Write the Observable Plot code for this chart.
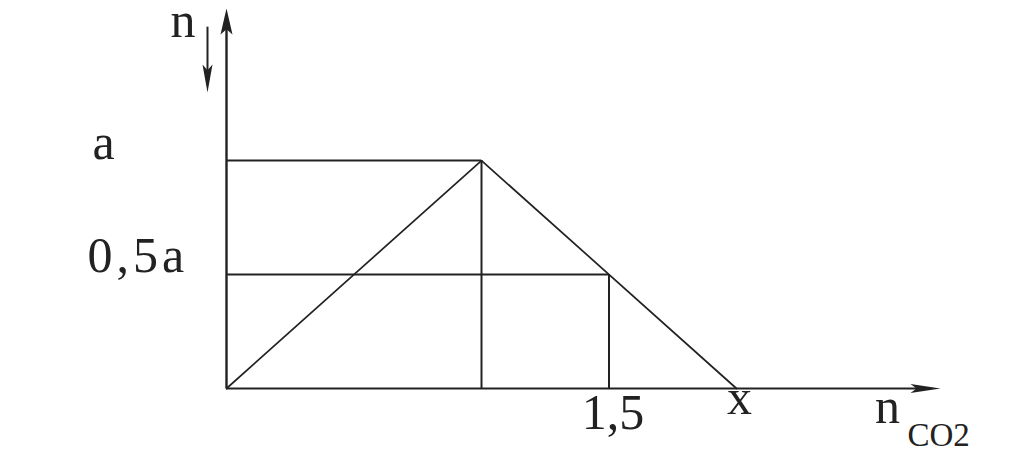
<!DOCTYPE html>
<html>
<head>
<meta charset="utf-8">
<script src="https://cdn.jsdelivr.net/npm/d3@7"></script>
<script src="https://cdn.jsdelivr.net/npm/@observablehq/plot@0.6"></script>
<style>
  html, body { margin: 0; padding: 0; background: #fff; }
  #chart svg { display: block; }
</style>
</head>
<body>
<div id="chart"></div>
<script>
// ---- data ----
const curveX = [0, 1, 2];
const curveY = [0, 1, 0];
const guideX = [1, 1.5];
const guideY = [1, 0.5];
const xTickValues = [1.5, 2];
const xTickLabels = ["1,5", "x"];
const yTickValues = [1, 0.5];
const yTickLabels = ["a", "0,5a"];
const xAxisLabel = "n";
const xAxisSub = "CO2";
const yAxisLabel = "n";
const xMax = 2.8;
const yMax = 1.667;

// ---- derived tables ----
const curve = curveX.map((x, i) => ({x, y: curveY[i]}));
const guides = guideX.map((x, i) => ({x, y: guideY[i]}));
const xTicks = xTickValues.map((x, i) => ({x, label: xTickLabels[i]}));
const yTicks = yTickValues.map((y, i) => ({y, label: yTickLabels[i]}));

// label offsets in pixels (layout)
const yTickOffsets = [[-134, -2], [-139, -3]];
const xTickOffsets = [[4, 40], [3, 25]];

// custom narrow arrowhead symbol pointing up (rotated per use)
const arrowHead = (len, half) => ({
  draw(ctx) {
    ctx.moveTo(0, 0);
    ctx.lineTo(half, len);
    ctx.lineTo(0, len * 0.8);
    ctx.lineTo(-half, len);
    ctx.closePath();
  }
});

const ink = "#222";
const font = "Liberation Serif, Times New Roman, serif";

const chart = Plot.plot({
  width: 1024,
  height: 457,
  marginLeft: 226,
  marginRight: 84,
  marginTop: 8,
  marginBottom: 69,
  x: {domain: [0, xMax], axis: null},
  y: {domain: [0, yMax], axis: null},
  style: {background: "#fff", fontFamily: font},
  marks: [
    // axes
    Plot.ruleY([0], {x1: 0, x2: xMax * 0.985, stroke: ink, strokeWidth: 2.2}),
    Plot.ruleX([0], {y1: 0, y2: yMax * 0.97, stroke: ink, strokeWidth: 2.4}),
    Plot.dot([{x: xMax, y: 0}], {x: "x", y: "y", symbol: arrowHead(30, 4.5), rotate: 90, fill: ink, stroke: null}),
    Plot.dot([{x: 0, y: yMax}], {x: "x", y: "y", symbol: arrowHead(26, 6), fill: ink, stroke: null}),
    // small down arrow next to the y label
    Plot.ruleX([0], {y1: 1.585, y2: 1.33, dx: -19, stroke: ink, strokeWidth: 2}),
    Plot.dot([{x: 0, y: 1.298}], {x: "x", y: "y", dx: -19, symbol: arrowHead(28, 5), rotate: 180, fill: ink, stroke: null}),
    // guide lines
    Plot.ruleY(guides, {y: "y", x1: 0, x2: "x", stroke: ink, strokeWidth: 2}),
    Plot.ruleX(guides, {x: "x", y1: 0, y2: "y", stroke: ink, strokeWidth: 2}),
    // curve
    Plot.line(curve, {x: "x", y: "y", stroke: ink, strokeWidth: 1.7}),
    // tick labels
    ...yTicks.map((d, i) => Plot.text([d], {x: 0, y: "y", text: "label", textAnchor: "start", lineAnchor: "bottom",
      dx: yTickOffsets[i][0], dy: yTickOffsets[i][1], fontSize: 50, fill: ink, fontFamily: font})),
    ...xTicks.map((d, i) => Plot.text([d], {x: "x", y: 0, text: "label", lineAnchor: "bottom",
      dx: xTickOffsets[i][0], dy: xTickOffsets[i][1], fontSize: 50, fill: ink, fontFamily: font})),
    // axis labels
    Plot.text([xAxisLabel], {x: xMax, y: 0, text: (d) => d, lineAnchor: "bottom", textAnchor: "middle",
      dx: -53, dy: 34, fontSize: 50, fill: ink, fontFamily: font}),
    Plot.text([xAxisSub], {x: xMax, y: 0, text: (d) => d, lineAnchor: "bottom", textAnchor: "start",
      dx: -33, dy: 57, fontSize: 33, fill: ink, fontFamily: font}),
    Plot.text([yAxisLabel], {x: 0, y: yMax, text: (d) => d, lineAnchor: "bottom", textAnchor: "start",
      dx: -56, dy: 28, fontSize: 50, fill: ink, fontFamily: font})
  ]
});

// wider letter spacing for the "0,5a" label, as in the reference
chart.querySelectorAll("text").forEach((t) => {
  if (t.textContent === yTickLabels[1]) t.setAttribute("letter-spacing", "4");
});

document.getElementById("chart").appendChild(chart);
</script>
</body>
</html>
